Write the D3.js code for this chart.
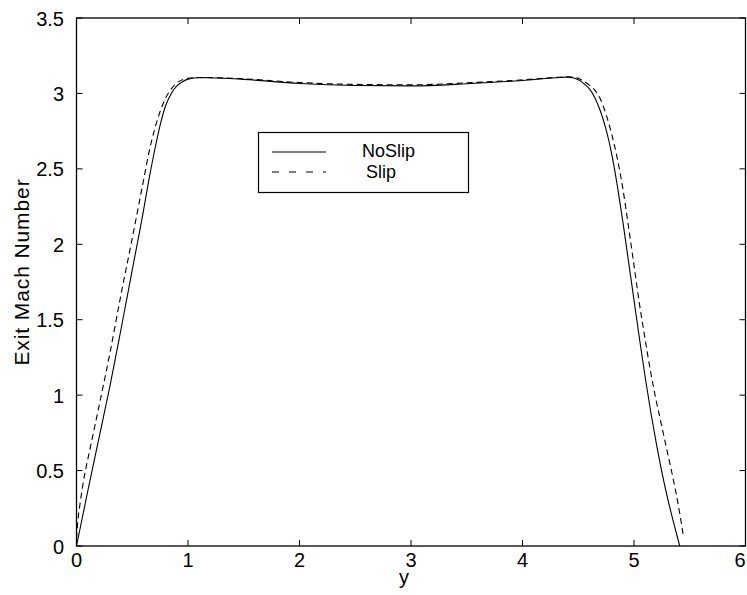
<!DOCTYPE html>
<html>
<head>
<meta charset="utf-8">
<script src="https://cdn.jsdelivr.net/npm/d3@7"></script>
<style>
  html, body { margin: 0; padding: 0; background: #fff; }
  svg { display: block; }
  text { font-family: "Liberation Sans", Arial, Helvetica, sans-serif; fill: #000; }
</style>
</head>
<body>
<svg id="chart" width="747" height="595"></svg>
<script>
// ---- data ----
const noSlipY = [0, 0.1, 0.2, 0.3, 0.4, 0.5, 0.6, 0.65, 0.7, 0.75, 0.8, 0.85, 0.9, 0.95, 1.0, 1.1, 1.2, 1.5, 2.0, 2.5, 3.0, 3.5, 4.0, 4.3, 4.4, 4.45, 4.5, 4.55, 4.6, 4.65, 4.7, 4.75, 4.8, 4.85, 4.9, 4.95, 5.0, 5.05, 5.1, 5.15, 5.2, 5.25, 5.3, 5.35, 5.41];
const noSlipM = [0, 0.36, 0.71, 1.06, 1.44, 1.83, 2.22, 2.43, 2.62, 2.79, 2.92, 3.0, 3.05, 3.078, 3.095, 3.105, 3.104, 3.093, 3.066, 3.053, 3.05, 3.064, 3.086, 3.104, 3.108, 3.104, 3.09, 3.065, 3.03, 2.97, 2.88, 2.76, 2.6, 2.39, 2.15, 1.89, 1.63, 1.37, 1.12, 0.89, 0.68, 0.49, 0.32, 0.17, 0];
const slipY = [0, 0.01, 0.03, 0.08, 0.1, 0.2, 0.3, 0.4, 0.5, 0.6, 0.65, 0.7, 0.75, 0.8, 0.85, 0.9, 1.0, 1.1, 1.2, 1.5, 2.0, 2.5, 3.0, 3.5, 4.0, 4.3, 4.4, 4.45, 4.5, 4.55, 4.6, 4.65, 4.7, 4.75, 4.8, 4.85, 4.9, 4.95, 5.0, 5.05, 5.1, 5.15, 5.2, 5.25, 5.3, 5.35, 5.4, 5.44];
const slipM = [0.05, 0.15, 0.27, 0.5, 0.57, 0.92, 1.28, 1.67, 2.04, 2.42, 2.61, 2.76, 2.88, 2.97, 3.03, 3.07, 3.1, 3.106, 3.105, 3.097, 3.072, 3.06, 3.057, 3.07, 3.09, 3.106, 3.11, 3.108, 3.1, 3.08, 3.055, 3.02, 2.96, 2.86, 2.73, 2.57, 2.37, 2.12, 1.86, 1.6, 1.37, 1.15, 0.96, 0.79, 0.62, 0.45, 0.26, 0.08];
const xTicks = [0, 1, 2, 3, 4, 5, 6];
const yTicks = [0, 0.5, 1, 1.5, 2, 2.5, 3, 3.5];
const seriesNames = ["NoSlip", "Slip"];
const xLabel = "y";
const yLabel = "Exit Mach Number";

// ---- layout ----
const svg = d3.select("#chart");
const L = 76.5, R = 745.5, T = 18, B = 546;
const x = d3.scaleLinear().domain([0, 6]).range([L, R]);
const y = d3.scaleLinear().domain([0, 3.5]).range([B, T]);
const tickLen = 6;
const fs = 20;

// box
svg.append("rect").attr("x", L).attr("y", T).attr("width", R - L).attr("height", B - T)
  .attr("fill", "none").attr("stroke", "#000").attr("stroke-width", 1.3);

// ticks (inward, all four sides)
const g = svg.append("g").attr("stroke", "#000").attr("stroke-width", 1);
xTicks.forEach(t => {
  g.append("line").attr("x1", x(t)).attr("x2", x(t)).attr("y1", B).attr("y2", B - tickLen);
  g.append("line").attr("x1", x(t)).attr("x2", x(t)).attr("y1", T).attr("y2", T + tickLen);
});
yTicks.forEach(t => {
  g.append("line").attr("y1", y(t)).attr("y2", y(t)).attr("x1", L).attr("x2", L + tickLen);
  g.append("line").attr("y1", y(t)).attr("y2", y(t)).attr("x1", R).attr("x2", R - tickLen);
});

// tick labels
svg.append("g").selectAll("text").data(xTicks).join("text")
  .attr("x", d => Math.min(x(d), 740)).attr("y", 566.5).attr("text-anchor", "middle")
  .attr("font-size", fs).text(d => d);
svg.append("g").selectAll("text").data(yTicks).join("text")
  .attr("x", 64).attr("y", d => y(d) + 7.5).attr("text-anchor", "end")
  .attr("font-size", fs).text(d => d);

// axis labels
svg.append("text").attr("x", 404).attr("y", 584).attr("text-anchor", "middle")
  .attr("font-size", fs).text(xLabel);
svg.append("text").attr("transform", "translate(29,272) rotate(-90)")
  .attr("text-anchor", "middle").attr("font-size", 21).attr("letter-spacing", 0.9).text(yLabel);

// curves
const line = d3.line().x(d => x(d[0])).y(d => y(d[1])).curve(d3.curveMonotoneX);
const noSlip = noSlipY.map((v, i) => [v, noSlipM[i]]);
const slip = slipY.map((v, i) => [v, slipM[i]]);
svg.append("path").attr("d", line(noSlip)).attr("fill", "none")
  .attr("stroke", "#000").attr("stroke-width", 1.1);
svg.append("path").attr("d", line(slip)).attr("fill", "none")
  .attr("stroke", "#000").attr("stroke-width", 1.1).attr("stroke-dasharray", "6,4");

// legend
const lg = svg.append("g");
lg.append("rect").attr("x", 258.5).attr("y", 132.5).attr("width", 210).attr("height", 60)
  .attr("fill", "#fff").attr("stroke", "#000").attr("stroke-width", 1.2);
lg.append("line").attr("x1", 272).attr("x2", 326).attr("y1", 152).attr("y2", 152)
  .attr("stroke", "#000").attr("stroke-width", 1);
lg.append("line").attr("x1", 272).attr("x2", 326).attr("y1", 172).attr("y2", 172)
  .attr("stroke", "#000").attr("stroke-width", 1).attr("stroke-dasharray", "7,10");
lg.append("text").attr("x", 362).attr("y", 157).attr("font-size", 18).text(seriesNames[0]);
lg.append("text").attr("x", 366).attr("y", 178).attr("font-size", 18).text(seriesNames[1]);
</script>
</body>
</html>
